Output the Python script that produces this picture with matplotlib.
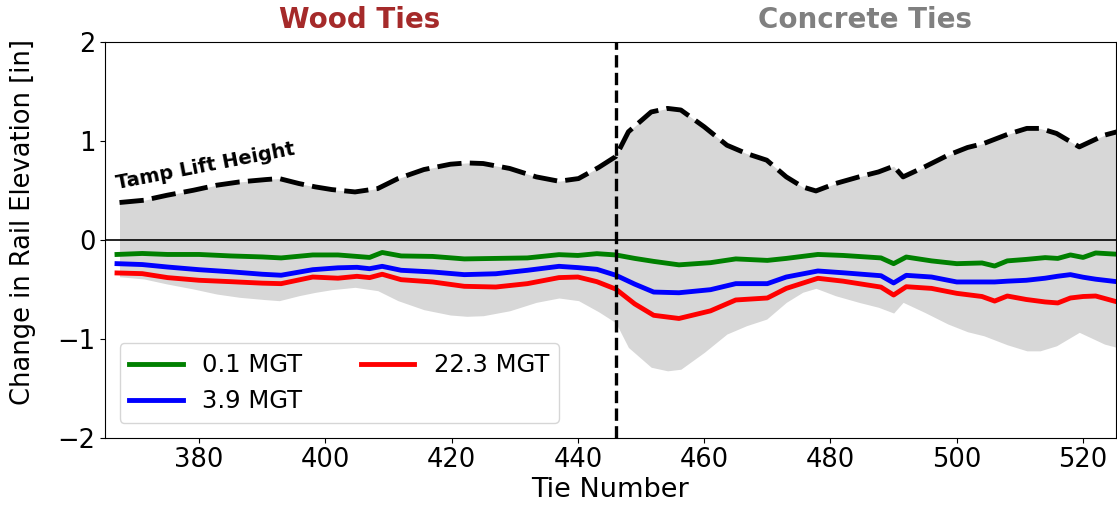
import matplotlib

matplotlib.use("Agg")

import matplotlib.pyplot as plt
import numpy as np

# tamp lift height along the test section
tamp_ties = [367.4, 371.3, 374.9, 379.1, 382.8, 386.4, 390.6, 392.7, 395.8, 398.4,
             401.0, 404.7, 408.3, 411.5, 415.6, 419.8, 422.4, 425.0, 429.2, 433.4,
             437.0, 440.1, 443.3, 446.0, 448.0, 451.6, 454.2, 456.3, 460.0, 463.6,
             466.7, 469.9, 473.0, 475.6, 477.7, 480.8, 484.5, 487.6, 490.0, 491.5,
             494.9, 498.6, 501.7, 504.3, 508.0, 511.1, 513.2, 515.8, 519.4, 523.4, 526.0]
tamp_lift = [0.375, 0.398, 0.448, 0.499, 0.550, 0.583, 0.607, 0.617, 0.567, 0.533,
             0.506, 0.482, 0.516, 0.617, 0.708, 0.762, 0.775, 0.769, 0.719, 0.634,
             0.590, 0.617, 0.730, 0.840, 1.090, 1.290, 1.326, 1.310, 1.140, 0.954,
             0.870, 0.803, 0.634, 0.532, 0.492, 0.567, 0.634, 0.684, 0.742, 0.634,
             0.735, 0.853, 0.931, 0.972, 1.063, 1.124, 1.124, 1.073, 0.937, 1.056, 1.100]

# settlement after traffic
ties = [367, 371, 375, 380, 385, 390, 393, 398, 402, 405, 407, 409, 412, 417, 422,
        427, 432, 437, 440, 443, 446, 449, 452, 456, 461, 465, 470, 473, 478, 482,
        488, 490, 492, 496, 500, 504, 506, 508, 511, 514, 516, 518, 520, 522, 526]
mgt_0_1 = [-0.150, -0.140, -0.150, -0.150, -0.165, -0.175, -0.185, -0.155, -0.155, -0.170,
           -0.180, -0.130, -0.165, -0.170, -0.195, -0.190, -0.185, -0.152, -0.160, -0.142,
           -0.155, -0.190, -0.220, -0.255, -0.233, -0.195, -0.210, -0.190, -0.150, -0.160,
           -0.185, -0.243, -0.176, -0.215, -0.243, -0.236, -0.267, -0.215, -0.200, -0.182,
           -0.190, -0.155, -0.180, -0.135, -0.150]
mgt_3_9 = [-0.243, -0.252, -0.277, -0.304, -0.325, -0.350, -0.360, -0.304, -0.285, -0.280,
           -0.294, -0.270, -0.310, -0.327, -0.354, -0.345, -0.310, -0.270, -0.283, -0.300,
           -0.360, -0.450, -0.530, -0.537, -0.506, -0.445, -0.445, -0.378, -0.317, -0.335,
           -0.365, -0.438, -0.361, -0.378, -0.428, -0.428, -0.428, -0.420, -0.411, -0.390,
           -0.370, -0.354, -0.380, -0.400, -0.430]
mgt_22_3 = [-0.337, -0.344, -0.384, -0.411, -0.425, -0.440, -0.445, -0.378, -0.390, -0.371,
            -0.384, -0.350, -0.405, -0.428, -0.472, -0.479, -0.445, -0.384, -0.378, -0.425,
            -0.500, -0.650, -0.765, -0.797, -0.720, -0.610, -0.590, -0.493, -0.391, -0.420,
            -0.480, -0.560, -0.476, -0.493, -0.543, -0.575, -0.621, -0.570, -0.605, -0.630,
            -0.640, -0.590, -0.575, -0.570, -0.640]

transition_tie = 446

fig = plt.figure(figsize=(11.17, 5.12), dpi=100)
ax = fig.add_axes([0.094, 0.1455, 0.905, 0.773])

lift = np.asarray(tamp_lift)
ax.fill_between(tamp_ties, -lift, lift, color="#d7d7d7", lw=0)
ax.plot(tamp_ties, tamp_lift, color="black", lw=3.5, ls=(0, (5, 1.7)))
ax.axhline(0, color="black", lw=1.2)

ax.plot(ties, mgt_0_1, color="green", lw=3.5, label="0.1 MGT")
ax.plot(ties, mgt_3_9, color="blue", lw=3.5, label="3.9 MGT")
ax.plot(ties, mgt_22_3, color="red", lw=3.5, label="22.3 MGT")
ax.axvline(transition_tie, color="black", lw=2.4, ls="--")

ax.set_xlim(365.1, 525.2)
ax.set_ylim(-2, 2)
ax.set_yticks([-2, -1, 0, 1, 2])
ax.set_xticks(np.arange(380, 521, 20))
ax.tick_params(labelsize=18.5)
ax.set_xlabel("Tie Number", fontsize=19.5, labelpad=3)
ax.set_ylabel("Change in Rail Elevation [in]", fontsize=18.5)
ax.yaxis.set_label_coords(-0.068, 0.545)

ax.text(405.5, 2.22, "Wood Ties", color="brown", fontsize=20, fontweight="bold",
        ha="center", va="center")
ax.text(485.5, 2.22, "Concrete Ties", color="gray", fontsize=20, fontweight="bold",
        ha="center", va="center")
ax.text(367.2, 0.47, "Tamp Lift Height", fontsize=14, fontweight="bold",
        rotation=11, rotation_mode="anchor", ha="left", va="bottom")

ax.legend(loc="lower left", ncol=2, fontsize=17.5, handlelength=2.2,
          columnspacing=2.4, borderaxespad=0.6)

fig.savefig("out.png", dpi=100)
